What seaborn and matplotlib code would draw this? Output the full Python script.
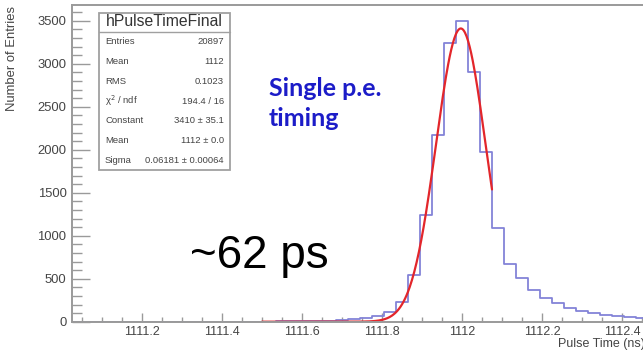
import numpy as np
import pandas as pd
import matplotlib
matplotlib.use("Agg")
import matplotlib.pyplot as plt
from matplotlib.patches import Rectangle
from matplotlib.lines import Line2D
from matplotlib.ticker import MultipleLocator
import seaborn as sns

# ---------------- data ----------------
bin_start = 1111.025
bin_width = 0.03
counts = [2, 0, 1, 2, 1, 0, 1, 2, 1, 1,
          0, 1, 2, 1, 1, 2, 2, 3, 3, 4,
          6, 9, 15, 28, 47, 66, 109, 233, 543, 1240,
          2171, 3244, 3500, 2900, 1977, 1093, 671, 512, 369, 272,
          214, 163, 124, 97, 78, 66, 55, 48, 42, 38]

fit_constant = 3410.0
fit_mean = 1111.997
fit_sigma = 0.06181
fit_range = (1111.5, 1112.075)

stat_labels = ["Entries", "Mean", "RMS", "χ$^2$ / ndf", "Constant", "Mean", "Sigma"]
stat_values = ["20897", "1112", "0.1023", "194.4 / 16", "3410 ± 35.1", "1112 ± 0.0", "0.06181 ± 0.00064"]

x_ticks = [1111.2, 1111.4, 1111.6, 1111.8, 1112.0, 1112.2, 1112.4]
x_tick_labels = ["1111.2", "1111.4", "1111.6", "1111.8", "1112", "1112.2", "1112.4"]
y_ticks = [0, 500, 1000, 1500, 2000, 2500, 3000, 3500]

# ---------------- style ----------------
sns.set_style("white")
plt.rcParams['font.family'] = ['Liberation Sans', 'DejaVu Sans']

W, H = 643, 350
fig = plt.figure(figsize=(W / 100, H / 100), dpi=100)

def fx(px):
    return px / W

def fy(py):
    return 1 - py / H

ax_left, ax_right, ax_top, ax_bottom = 72, 672, 5, 321.7
ax = fig.add_axes([fx(ax_left), fy(ax_bottom), (ax_right - ax_left) / W, (ax_bottom - ax_top) / H])

n = len(counts)
centers = bin_start + bin_width * (np.arange(n) + 0.5)
df = pd.DataFrame({"t": centers, "w": counts})

sns.histplot(data=df, x="t", weights="w", binwidth=bin_width,
             binrange=(bin_start, bin_start + bin_width * n),
             element="step", fill=False, color="#8383d8", linewidth=1.3, ax=ax)

xf = np.linspace(fit_range[0], fit_range[1], 300)
yf = fit_constant * np.exp(-0.5 * ((xf - fit_mean) / fit_sigma) ** 2)
sns.lineplot(x=xf, y=yf, color="#e3262b", linewidth=1.6, ax=ax)

ax.set_xlim(bin_start, bin_start + bin_width * n)
ax.set_ylim(0, 3683)
ax.set_xlabel("")
ax.set_ylabel("")

gray = "#9a9a9a"
for s in ["left", "bottom", "top", "right"]:
    ax.spines[s].set_color(gray)
    ax.spines[s].set_linewidth(1.4)

ax.set_xticks(x_ticks)
ax.set_xticklabels(x_tick_labels)
ax.set_yticks(y_ticks)
ax.xaxis.set_minor_locator(MultipleLocator(0.05))
ax.yaxis.set_minor_locator(MultipleLocator(100))
ax.tick_params(axis="x", which="major", direction="in", length=6.5, width=1.0, color=gray,
               labelsize=9, labelcolor="#444444", pad=3, bottom=True, top=False)
ax.tick_params(axis="x", which="minor", direction="in", length=3.6, width=1.0, color=gray,
               bottom=True, top=False)
ax.tick_params(axis="y", which="major", direction="in", length=13, width=1.0, color=gray,
               labelsize=9.4, labelcolor="#444444", pad=4, left=True, right=False)
ax.tick_params(axis="y", which="minor", direction="in", length=7, width=1.0, color=gray,
               left=True, right=False)

# axis titles
fig.text(fx(12), fy(6), "Number of Entries", rotation=90, ha="center", va="top",
         fontsize=9.4, color="#444444")
fig.text(fx(558), fy(343.5), "Pulse Time (ns)", ha="left", va="center",
         fontsize=9, color="#444444")

# stats box
bx0, by0, bx1, by1 = 99, 12.5, 230, 170
fig.patches.append(Rectangle((fx(bx0), fy(by1)), (bx1 - bx0) / W, (by1 - by0) / H,
                             transform=fig.transFigure, facecolor="white",
                             edgecolor="#a0a0a0", linewidth=1.3, zorder=5))
fig.lines.append(Line2D([fx(bx0), fx(bx1)], [fy(32), fy(32)], transform=fig.transFigure,
                        color="#a0a0a0", linewidth=1.0, zorder=6))
fig.text(fx(164.5), fy(22), "hPulseTimeFinal", ha="center", va="center",
         fontsize=11.3, color="#333333", zorder=7)
for i, (lab, val) in enumerate(zip(stat_labels, stat_values)):
    yy = fy(42 + 19.7 * i)
    fig.text(fx(105), yy, lab, ha="left", va="center", fontsize=6.8, color="#444444", zorder=7)
    fig.text(fx(224), yy, val, ha="right", va="center", fontsize=6.8, color="#444444", zorder=7)

# annotations
fig.text(fx(269), fy(96), "Single p.e.", ha="left", va="baseline", fontsize=18,
         fontweight="bold", color="#1c1cc8", family=["Lato", "DejaVu Sans"])
fig.text(fx(269), fy(126), "timing", ha="left", va="baseline", fontsize=18,
         fontweight="bold", color="#1c1cc8", family=["Lato", "DejaVu Sans"])
fig.text(fx(190), fy(268), "~62 ps", ha="left", va="baseline", fontsize=33,
         color="black")

fig.savefig("out.png", dpi=100)
